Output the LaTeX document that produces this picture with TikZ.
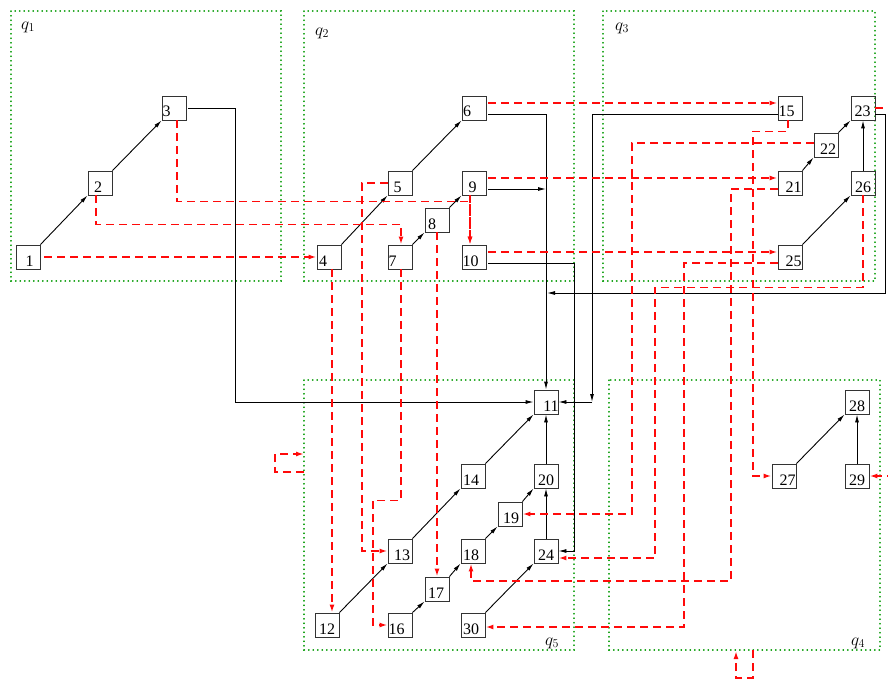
\documentclass[tikz,border=0pt]{standalone}
\usepackage{fontspec}
\setmainfont{Liberation Serif}
\usetikzlibrary{arrows.meta}
\definecolor{qgreen}{RGB}{30,165,30}
\definecolor{rdcol}{RGB}{255,10,10}
\newcommand\lab[2]{\hspace*{#1pt}#2\hspace*{-#1pt}}
\begin{document}
\begin{tikzpicture}[x=1pt,y=-1pt,
  box/.style={draw=black!80, line width=0.9pt, minimum width=24pt, minimum height=24pt,
    inner sep=0pt, text height=18pt, text depth=0pt, font=\fontsize{16}{16}\selectfont},
  blk/.style={line width=0.9pt, -{Latex[length=8pt,width=4pt]}},
  rd/.style={draw=rdcol, line width=1.9pt, dash pattern=on 8pt off 5pt, -{Latex[length=8pt,width=5pt]}},
  region/.style={draw=qgreen, line width=1.2pt, dash pattern=on 0.6pt off 3.9pt, line cap=round},
  qlab/.style={font=\fontsize{17}{17}\selectfont, inner sep=0pt}]
\useasboundingbox (0,0) rectangle (888,682);
\clip (0,0) rectangle (888,682);
% regions
\draw[region] (11,11) rectangle (281,281);
\draw[region] (304,11) rectangle (574,281);
\draw[region] (603,11) rectangle (875,281);
\draw[region] (304,380) rectangle (574,650);
\draw[region] (609,380) rectangle (880,650);
\node[qlab] (q1) at (28,27) {$q_1$};
\node[qlab] (q2) at (322,33) {$q_2$};
\node[qlab] (q3) at (622,28) {$q_3$};
\node[qlab] (q5) at (552,643) {$q_5$};
\node[qlab] (q4) at (858,643) {$q_4$};
% nodes
\node[box] (n1) at (28,257) {\lab{1.5}{1}};
\node[box] (n2) at (100,183) {\lab{-2}{2}};
\node[box] (n3) at (174,108) {\lab{-7.5}{3}};
\node[box] (n4) at (329,257) {\lab{-6}{4}};
\node[box] (n5) at (400,183) {\lab{-2.5}{5}};
\node[box] (n6) at (474,108) {\lab{-7}{6}};
\node[box] (n7) at (400,257) {\lab{-7.5}{7}};
\node[box] (n8) at (437,220) {\lab{-5}{8}};
\node[box] (n9) at (474,183) {\lab{-1.5}{9}};
\node[box] (n10) at (474,257) {\lab{-3.5}{10}};
\node[box] (n15) at (790,108) {\lab{-3.5}{15}};
\node[box] (n23) at (863,108) {\lab{-0.5}{23}};
\node[box] (n22) at (826,145) {\lab{2}{22}};
\node[box] (n21) at (790,183) {\lab{3.5}{21}};
\node[box] (n26) at (863,183) {\lab{0}{26}};
\node[box] (n25) at (790,257) {\lab{3.5}{25}};
\node[box] (n11) at (546,402) {\lab{5}{11}};
\node[box] (n14) at (473,476) {\lab{-2}{14}};
\node[box] (n20) at (546,476) {\lab{0}{20}};
\node[box] (n19) at (510,514) {\lab{1}{19}};
\node[box] (n13) at (400,551) {\lab{2}{13}};
\node[box] (n18) at (473,551) {\lab{-2}{18}};
\node[box] (n24) at (546,551) {\lab{0}{24}};
\node[box] (n17) at (437,589) {\lab{-1}{17}};
\node[box] (n12) at (327,625) {\lab{0}{12}};
\node[box] (n16) at (400,625) {\lab{-3.5}{16}};
\node[box] (n30) at (473,625) {\lab{-2}{30}};
\node[box] (n28) at (857,402) {\lab{0}{28}};
\node[box] (n27) at (784,476) {\lab{3.5}{27}};
\node[box] (n29) at (857,476) {\lab{0}{29}};
% junction coordinates
\coordinate (j9) at (546,189);
\coordinate (j23) at (547,293);
\coordinate (c15) at (592,402);
\coordinate (l5a) at (304,472);
\coordinate (l5b) at (304,454);
\coordinate (l4a) at (753,650);
\coordinate (l4b) at (736,651);
% black edges
\draw[blk] (n1.north east) -- (n2.south west);
\draw[blk] (n2.north east) -- (n3.south west);
\draw[blk] ([xshift=2pt]n3.east) -- ++(47,0) |- (n11.west);
\draw[blk] (n4.north east) -- (n5.south west);
\draw[blk] (n5.north east) -- (n6.south west);
\draw[blk] (n7.north east) -- (n8.south west);
\draw[blk] (n8.north east) -- (n9.south west);
\draw[blk] ([yshift=-6pt,xshift=2pt]n6.east) -| (n11.north);
\draw[blk] ([yshift=-6pt,xshift=2pt]n9.east) -- (j9);
\draw[blk] ([yshift=-6pt,xshift=2pt]n10.east) -- ++(86,0) |- (n24.east);
\draw[blk] ([yshift=-6pt]n15.west) -| (c15);
\draw[blk] (c15) -- (n11.east);
\draw[blk] ([yshift=-6pt]n23.east) -- ++(10,0) |- (j23);
\draw[blk] (n21.north east) -- (n22.south west);
\draw[blk] (n22.north east) -- (n23.south west);
\draw[blk] (n25.north east) -- (n26.south west);
\draw[blk] (n26.north) -- (n23.south);
\draw[blk] (n12.north east) -- (n13.south west);
\draw[blk] (n13.north east) -- (n14.south west);
\draw[blk] (n14.north east) -- (n11.south west);
\draw[blk] (n20.north) -- (n11.south);
\draw[blk] (n16.north east) -- (n17.south west);
\draw[blk] (n17.north east) -- (n18.south west);
\draw[blk] (n18.north east) -- (n19.south west);
\draw[blk] (n19.north east) -- (n20.south west);
\draw[blk] (n24.north) -- (n20.south);
\draw[blk] (n30.north east) -- (n24.south west);
\draw[blk] (n27.north east) -- (n28.south west);
\draw[blk] (n29.north) -- (n28.south);
% red dashed edges
\draw[rd] ([xshift=4pt]n1.east) -- (n4.west);
\draw[rd] ([xshift=-4pt]n2.south) -- ++(0,29) -| ([xshift=1pt]n7.north);
\draw[rd] ([xshift=3pt]n3.south) -- ++(0,81) -| ([xshift=-4pt]n10.north);
\draw[rd] ([xshift=-4pt]n9.south) -- ([xshift=-4pt]n10.north);
\draw[rd] ([xshift=3pt]n4.south) -- ([xshift=5pt]n12.north);
\draw[rd] (n5.west) -- ++(-26,0) |- (n13.west);
\draw[rd] ([xshift=1pt]n7.south) -- ++(0,231) -- ++(-28,0) |- (n16.west);
\draw[rd] (n8.south) -- (n17.north);
\draw[rd] ([yshift=5pt,xshift=2pt]n6.east) -- ([yshift=5pt]n15.west);
\draw[rd] ([yshift=5pt,xshift=2pt]n9.east) -- ([yshift=5pt]n21.west);
\draw[rd] ([yshift=5pt,xshift=2pt]n10.east) -- ([yshift=5pt]n25.west);
\draw[rd] ([xshift=-2pt]n15.south) -- ++(0,11) -- ++(-35,0) |- (n27.west);
\draw[rd] ([yshift=2pt]n22.west) -- ++(-182,0) |- (n19.east);
\draw[rd] ([yshift=-6pt]n21.west) -- ++(-47,0) -- ++(0,392) -| ([xshift=-2pt]n18.south);
\draw[rd] (n26.south) -- ++(0,92) -- ++(-208,0) |- ([yshift=-7pt]n24.east);
\draw[rd] ([yshift=-6pt]n25.west) -- ++(-94,0) |- ([yshift=-2pt]n30.east);
\draw[rd] (n23.east) -- (896,108) |- (n29.east);
\draw[rd] (l5a) -- ++(-29,0) -- ++(0,-18) -- (l5b);
\draw[rd] (l4a) -- ++(0,28) -| (l4b);
\end{tikzpicture}
\end{document}
